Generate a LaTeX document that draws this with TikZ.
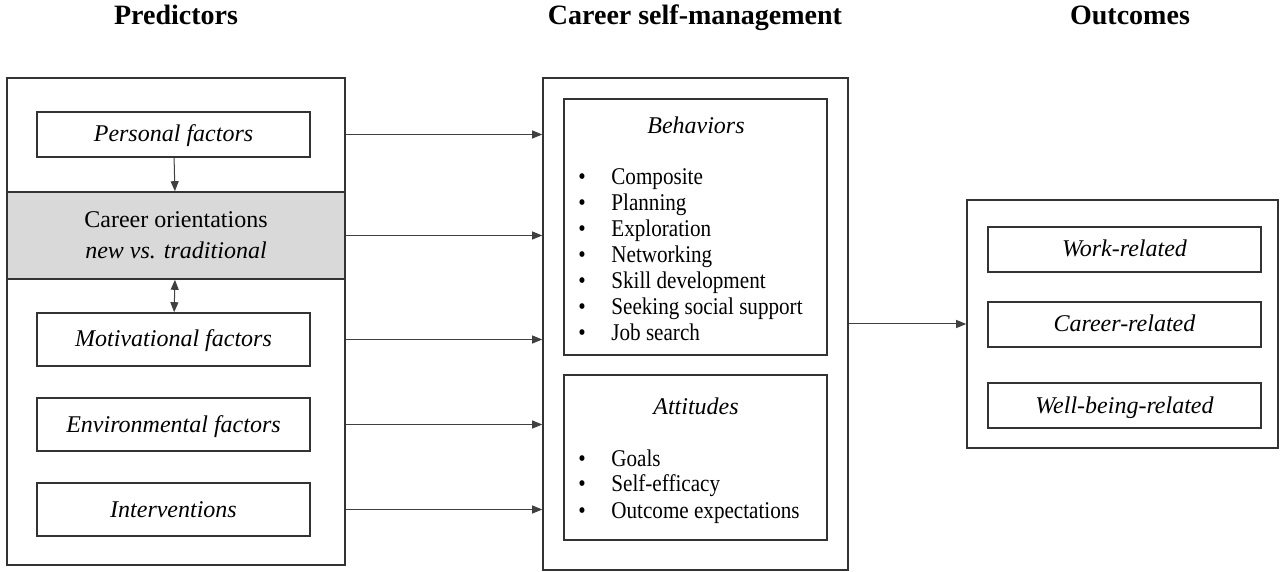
\documentclass[tikz,border=0pt]{standalone}
\usepackage{fontspec}
\setmainfont{Liberation Serif}
\newfontfamily\listfont[FakeStretch=0.88]{Liberation Serif}
\usetikzlibrary{arrows.meta}

\begin{document}
\begin{tikzpicture}[x=0.5pt,y=-0.5pt,
    every node/.style={font=\fontsize{12}{13}\selectfont, inner sep=0pt},
    ttl/.style={font=\fontsize{14}{16}\selectfont\bfseries, anchor=base},
    frame/.style={draw=black!80, line width=0.8pt},
    box/.style={frame, text height=8.5pt, text depth=1pt},
    lst/.style={anchor=base west, font=\fontsize{12}{13}\selectfont\listfont},
    arr/.style={-{Triangle[length=5pt,width=4pt]}, draw=black!75, line width=0.5pt}]
\useasboundingbox (0,0) rectangle (1280,572);

% column titles
\node[ttl] (T1) at (176,25){Predictors};
\node[ttl] (T2) at (695,25){Career self-management};
\node[ttl] (T3) at (1130,25){Outcomes};

% predictors
\node[frame, minimum width=169pt, minimum height=243.5pt] (Pred) at (176,321.5){};
\node[box, minimum width=136.5pt, minimum height=22.5pt] (Pers) at (173.5,134.5){\textit{Personal factors}};
\node[frame, fill=black!15, minimum width=169pt, minimum height=43.5pt, align=center] (Orient) at (176,235.5){Career orientations\\[2.5pt]\textit{new vs. traditional}};
\node[box, minimum width=136.5pt, minimum height=26.5pt] (Mot) at (173.5,339.5){\textit{Motivational factors}};
\node[box, minimum width=136.5pt, minimum height=26.5pt] (Env) at (173.5,424.5){\textit{Environmental factors}};
\node[box, minimum width=136.5pt, minimum height=26.5pt] (Int) at (173.5,509.5){\textit{Interventions}};

% career self-management
\node[frame, minimum width=152.5pt, minimum height=246pt] (CSM) at (695.5,324){};
\node[frame, minimum width=131.5pt, minimum height=128pt] (Beh) at (695.5,227){};
\node (BehT) at (696,125){\textit{Behaviors}};
\node[lst] (BehL) at (578,185){\begin{tabular}[t]{@{}p{16.5pt}@{}l@{}}
\textbullet & Composite\\
\textbullet & Planning\\
\textbullet & Exploration\\
\textbullet & Networking\\
\textbullet & Skill development\\
\textbullet & Seeking social support\\
\textbullet & Job search
\end{tabular}};
\node[frame, minimum width=131.5pt, minimum height=82.5pt] (Att) at (695.5,457.5){};
\node (AttT) at (696,406){\textit{Attitudes}};
\node[lst] (AttL) at (578,466){\begin{tabular}[t]{@{}p{16.5pt}@{}l@{}}
\textbullet & Goals\\
\textbullet & Self-efficacy\\
\textbullet & Outcome expectations
\end{tabular}};

% outcomes
\node[frame, minimum width=155.5pt, minimum height=124pt] (Out) at (1122.5,324){};
\node[box, minimum width=136.5pt, minimum height=22.5pt] (Work) at (1124.5,249.5){\textit{Work-related}};
\node[box, minimum width=136.5pt, minimum height=22.5pt] (Car) at (1124.5,324.5){\textit{Career-related}};
\node[box, minimum width=136.5pt, minimum height=22.5pt] (Well) at (1124.5,405.5){\textit{Well-being-related}};

% arrows
\draw[arr] (Pers) -- (Orient);
\draw[arr, {Triangle[length=5pt,width=4pt]}-{Triangle[length=5pt,width=4pt]}] (Orient) -- (Mot);
\draw[arr] (Pers -| Pred.east) -- (Pers -| CSM.west);
\draw[arr] (Orient.east) -- (Orient -| CSM.west);
\draw[arr] (Mot -| Pred.east) -- (Mot -| CSM.west);
\draw[arr] (Env -| Pred.east) -- (Env -| CSM.west);
\draw[arr] (Int -| Pred.east) -- (Int -| CSM.west);
\draw[arr] (CSM.east) -- (Out.west);
\end{tikzpicture}
\end{document}
